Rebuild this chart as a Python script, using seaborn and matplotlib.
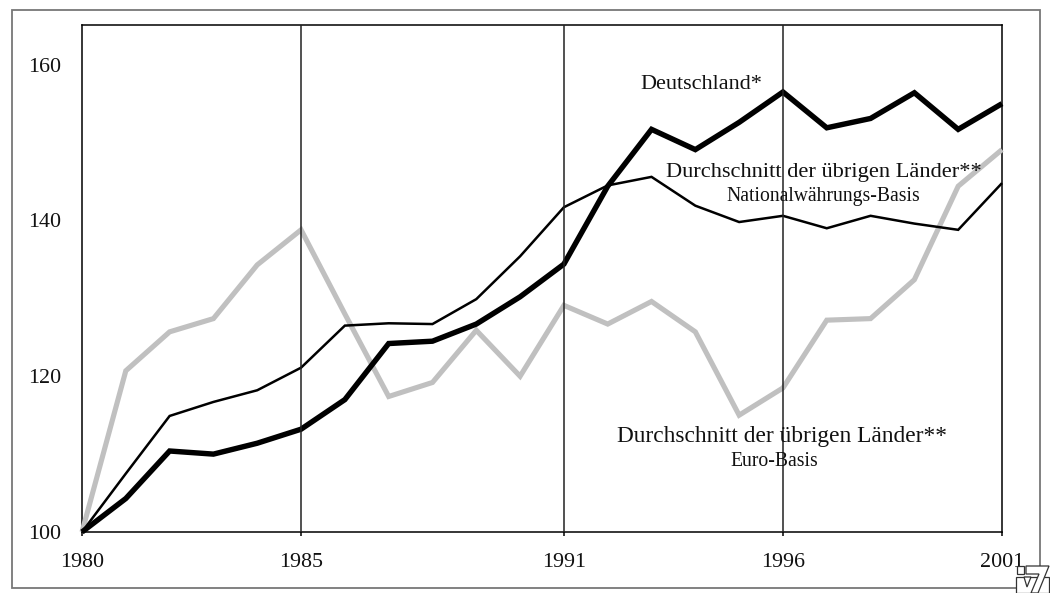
import matplotlib
matplotlib.use("Agg")
import matplotlib.pyplot as plt
from matplotlib.patches import Rectangle, Polygon
import seaborn as sns
import pandas as pd

years = list(range(1980, 2002))
deutschland = [100, 104.3, 110.4, 110.0, 111.4, 113.2, 117.0, 124.2, 124.5, 126.7, 130.2,
               134.4, 144.4, 151.7, 149.1, 152.6, 156.5, 151.9, 153.1, 156.4, 151.7, 155.0]
national = [100, 107.5, 114.9, 116.7, 118.2, 121.1, 126.5, 126.8, 126.7, 129.9, 135.4,
            141.7, 144.5, 145.6, 141.9, 139.8, 140.6, 139.0, 140.6, 139.6, 138.8, 144.8]
euro = [100, 120.7, 125.7, 127.4, 134.3, 138.8, 128.0, 117.4, 119.2, 125.9, 120.0,
        129.1, 126.7, 129.6, 125.7, 115.0, 118.5, 127.2, 127.4, 132.4, 144.4, 149.1]
grid_years = [1980, 1985, 1991, 1996, 2001]
y_ticks = [100, 120, 140, 160]

W, H = 1050, 593
sns.set_style("white")
plt.rcParams["font.family"] = ["Liberation Serif", "DejaVu Serif"]
fig = plt.figure(figsize=(W / 100, H / 100), dpi=100)
ax = fig.add_axes([82 / W, 1 - 532 / H, 920 / W, 507 / H])

df = pd.DataFrame({"Jahr": years, "Euro": euro, "National": national, "Deutschland": deutschland})
styles = [("Euro", "#c0c0c0", 3.7), ("National", "black", 1.8), ("Deutschland", "black", 3.9)]
for col, color, lw in styles:
    sns.lineplot(data=df, x="Jahr", y=col, color=color, linewidth=lw, ax=ax,
                 clip_on=False, zorder=3, solid_joinstyle="miter", solid_capstyle="butt")

ax.set_xlim(1980, 2001)
ax.set_ylim(100, 165.1)
ax.set_xlabel("")
ax.set_ylabel("")
ax.set_xticks(grid_years)
ax.set_yticks(y_ticks)
ax.tick_params(axis="x", length=3, width=1.1, color="black", bottom=True, labelsize=15.8, pad=12)
ax.tick_params(axis="y", length=0, labelsize=15.8, pad=15)
for lab in ax.get_xticklabels() + ax.get_yticklabels():
    lab.set_color("#111111")
for yr in grid_years[1:-1]:
    ax.axvline(yr, color="#222222", linewidth=1.1, zorder=4)
for s in ax.spines.values():
    s.set_visible(True)
    s.set_color("black")
    s.set_linewidth(1.1)

def ptext(x, y, s, size):
    fig.text(x / W, 1 - y / H, s, ha="center", va="center", fontsize=size, color="#111111", zorder=6)

ptext(701, 84.5, "Deutschland*", 16)
ptext(824, 172.5, "Durchschnitt der übrigen Länder**", 16.1)
ptext(823, 196.5, "Nationalwährungs-Basis", 14.1)
ptext(782, 436.5, "Durchschnitt der übrigen Länder**", 16.8)
ptext(774, 461.5, "Euro-Basis", 14.1)

# outer frame
fig.add_artist(Rectangle((12 / W, 1 - 587.5 / H), 1028 / W, 577.5 / H, transform=fig.transFigure,
                         fill=False, edgecolor="#777777", linewidth=1.3))

# small logo in the lower right corner
def logo(points):
    fig.add_artist(Polygon([(x / W, 1 - y / H) for x, y in points], closed=True, transform=fig.transFigure,
                           facecolor="white", edgecolor="#333333", linewidth=0.9, zorder=7))

logo([(1016, 577), (1049, 577), (1049, 593), (1016, 593)])
logo([(1017, 566), (1024, 566), (1024, 574), (1017, 574)])
logo([(1026, 566), (1049, 566), (1038, 593), (1031, 593), (1039, 574), (1026, 574)])
logo([(1024, 577), (1031, 577), (1027, 587)])

fig.savefig("out.png", dpi=100, facecolor="white")
